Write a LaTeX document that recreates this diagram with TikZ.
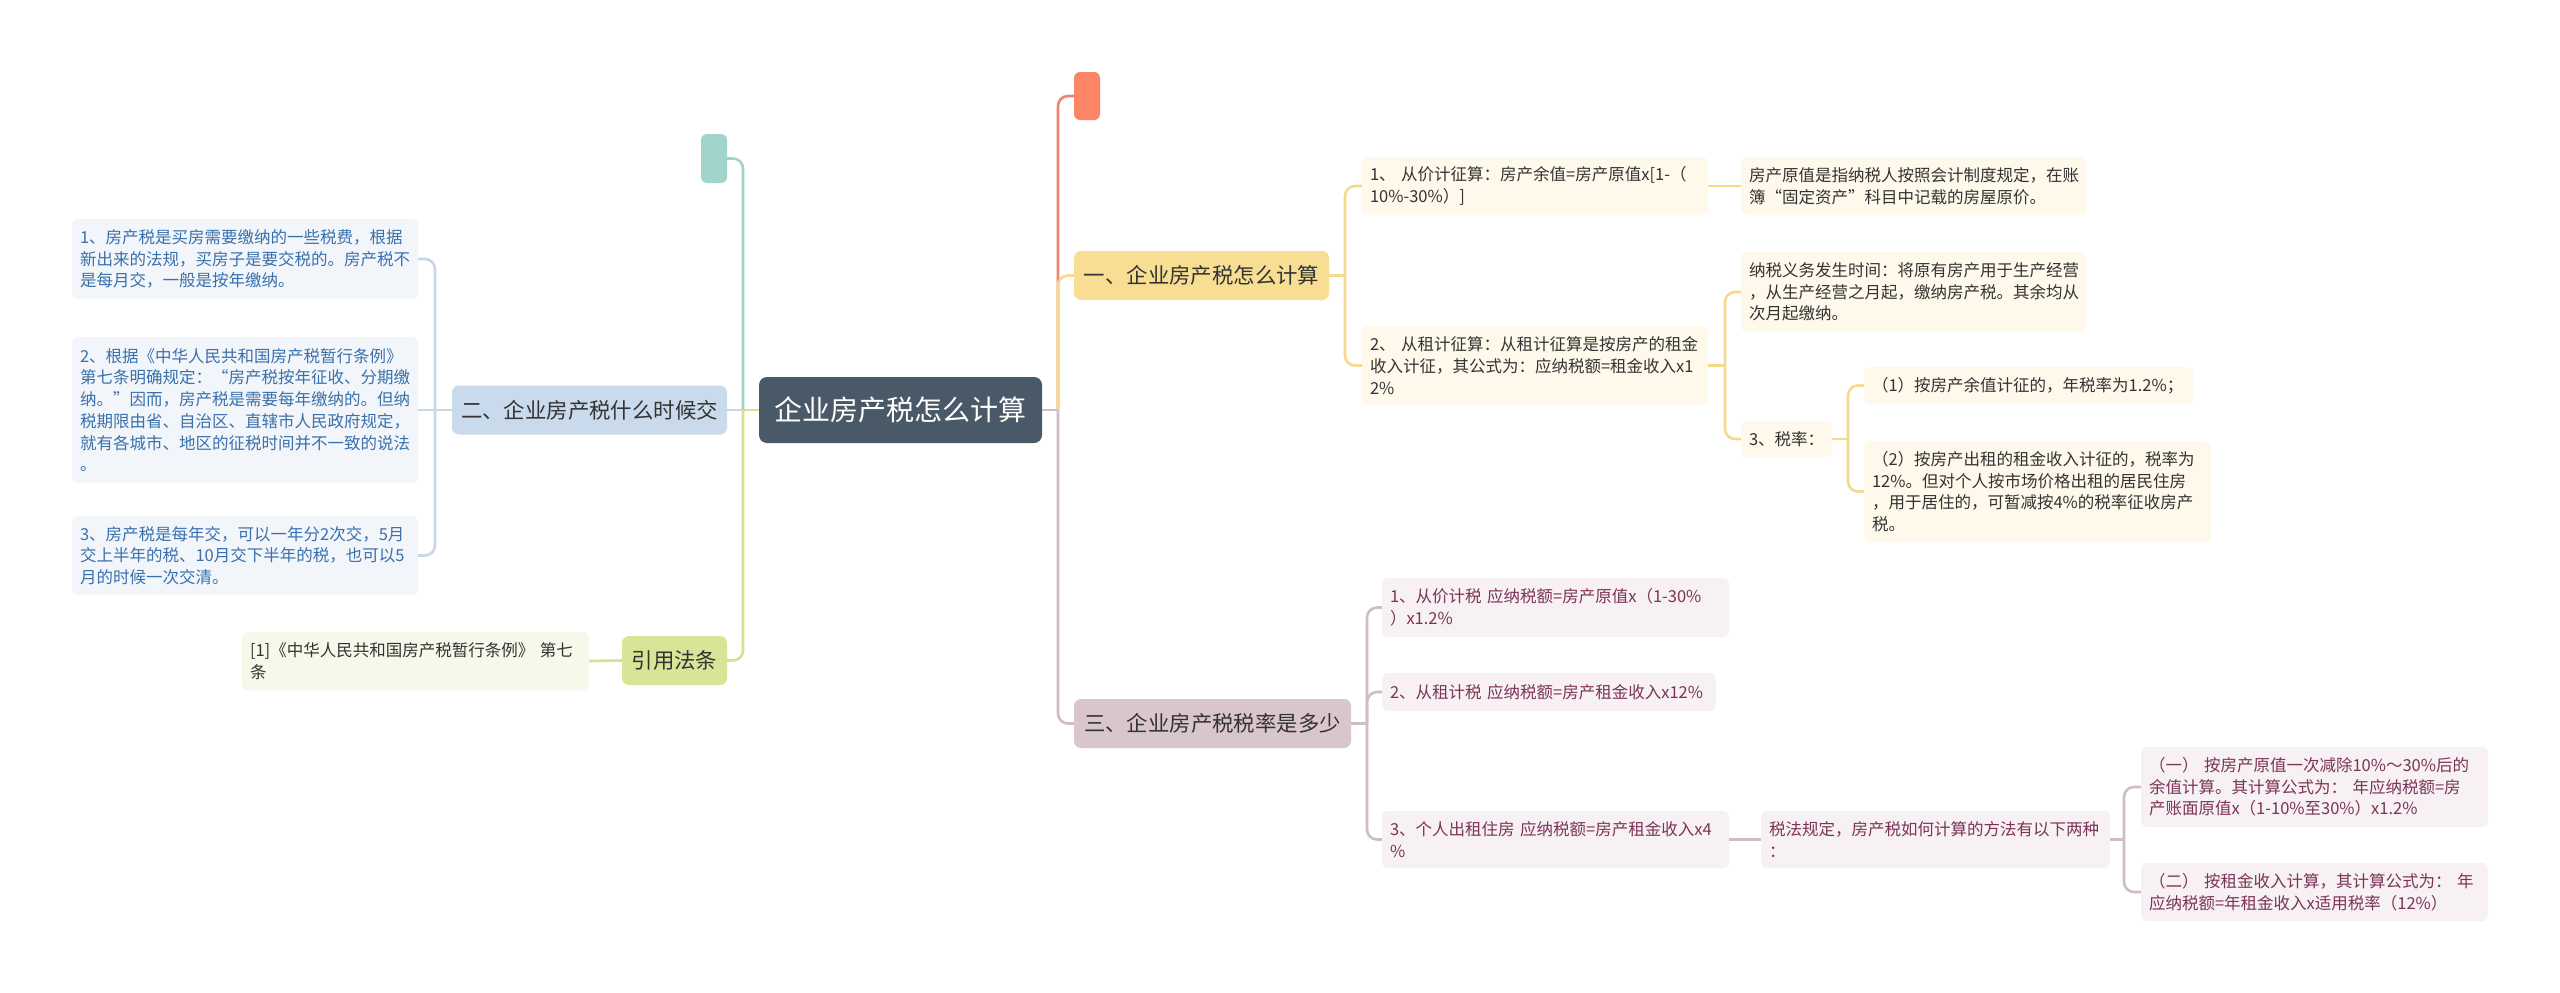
\documentclass[tikz,border=0pt]{standalone}
\usepackage{fontspec}
\setmainfont{Noto Sans CJK SC}
\definecolor{cdark}{HTML}{4A5968}
\definecolor{cteal}{HTML}{A2D4CE}
\definecolor{corange}{HTML}{FD8565}
\definecolor{cyellow}{HTML}{F8DE92}
\definecolor{cblue}{HTML}{C9DAEC}
\definecolor{cgreen}{HTML}{D7E597}
\definecolor{cmauve}{HTML}{D9C5CD}
\definecolor{lteal}{HTML}{A0D2CC}
\definecolor{lorange}{HTML}{F2836A}
\definecolor{lyellow}{HTML}{F5DA8C}
\definecolor{lblue}{HTML}{C8D6E7}
\definecolor{lgreen}{HTML}{D4E291}
\definecolor{lmauve}{HTML}{CFBDC5}
\definecolor{bgyellow}{HTML}{FEF9EA}
\definecolor{bgblue}{HTML}{F2F6FB}
\definecolor{bggreen}{HTML}{F6F9EA}
\definecolor{bgmauve}{HTML}{F7F1F4}
\definecolor{tblue}{HTML}{3A70AB}
\definecolor{tmauve}{HTML}{7B3457}
\definecolor{tdark}{HTML}{333333}
\tikzset{
  conn/.style={line width=2.6pt, rounded corners=10pt},
  leafbase/.style={rounded corners=6pt, inner xsep=8pt, inner ysep=0pt, align=left, anchor=center, font=\fontsize{16.5}{21.7}\selectfont},
  leafY/.style={leafbase, fill=bgyellow, text=tdark},
  leafB/.style={leafbase, fill=bgblue, text=tblue},
  leafG/.style={leafbase, fill=bggreen, text=tdark},
  leafM/.style={leafbase, fill=bgmauve, text=tmauve},
  lvl/.style={rounded corners=7pt, inner sep=0pt, anchor=center, text=tdark, font=\fontsize{21.4}{26}\selectfont},
  tiny/.style={rounded corners=6pt, inner sep=0pt, anchor=center},
}
\begin{document}
\begin{tikzpicture}[x=1pt,y=-1pt]
\useasboundingbox[fill=white] (0,0) rectangle (2560,993);

% central
\node[rounded corners=8pt, fill=cdark, text=white, inner sep=0pt, minimum width=283pt, minimum height=66pt, font=\fontsize{28}{32}\selectfont] (root) at (900.5,410) {企业房产税怎么计算};

% small nodes
\node[tiny, fill=cteal, minimum width=26pt, minimum height=49pt] (teal) at (714,158.5) {};
\node[tiny, fill=corange, minimum width=26pt, minimum height=48pt] (orng) at (1087,96) {};

% level 1
\node[lvl, fill=cyellow, minimum width=255pt, minimum height=49pt] (one) at (1201.5,275.5) {一、企业房产税怎么计算};
\node[lvl, fill=cblue, minimum width=275pt, minimum height=49pt] (two) at (589.5,410) {二、企业房产税什么时候交};
\node[lvl, fill=cmauve, minimum width=277pt, minimum height=49pt] (three) at (1212.5,723.5) {三、企业房产税税率是多少};
\node[lvl, fill=cgreen, minimum width=105pt, minimum height=49pt] (cite) at (674.5,660.5) {引用法条};

% left leaves
\node[leafB, text width=330pt, minimum height=80pt] (L1) at (245,259) {1、房产税是买房需要缴纳的一些税费，根据\\新出来的法规，买房子是要交税的。房产税不\\是每月交，一般是按年缴纳。};
\node[leafB, text width=330pt, minimum height=146pt] (L2) at (245,410) {2、根据《中华人民共和国房产税暂行条例》\\第七条明确规定：“房产税按年征收、分期缴\\纳。”因而，房产税是需要每年缴纳的。但纳\\税期限由省、自治区、直辖市人民政府规定，\\就有各城市、地区的征税时间并不一致的说法\\。};
\node[leafB, text width=330pt, minimum height=79pt] (L3) at (245,555.5) {3、房产税是每年交，可以一年分2次交，5月\\交上半年的税、10月交下半年的税，也可以5\\月的时候一次交清。};
\node[leafG, text width=331pt, minimum height=58pt] (citeL) at (415.5,661) {[1]《中华人民共和国房产税暂行条例》 第七\\条};

% branch one leaves
\node[leafY, text width=330pt, minimum height=58pt] (A) at (1535,186) {1、 从价计征算：房产余值=房产原值x[1-（\\10\%-30\%）]};
\node[leafY, text width=329pt, minimum height=58pt] (Ac) at (1913.5,186) {房产原值是指纳税人按照会计制度规定，在账\\簿“固定资产”科目中记载的房屋原价。};
\node[leafY, text width=330pt, minimum height=79pt] (B) at (1535,365.5) {2、 从租计征算：从租计征算是按房产的租金\\收入计征，其公式为：应纳税额=租金收入x1\\2\%};
\node[leafY, text width=329pt, minimum height=80pt] (B1) at (1913.5,292) {纳税义务发生时间：将原有房产用于生产经营\\，从生产经营之月起，缴纳房产税。其余均从\\次月起缴纳。};
\node[leafY, text width=75pt, minimum height=36pt] (B2) at (1786.5,439) {3、税率：};
\node[leafY, text width=313pt, minimum height=37pt] (B2a) at (2028.5,385.5) {（1）按房产余值计征的，年税率为1.2\%；};
\node[leafY, text width=331pt, minimum height=101pt] (B2b) at (2037.5,491.5) {（2）按房产出租的租金收入计征的，税率为\\12\%。但对个人按市场价格出租的居民住房\\，用于居住的，可暂减按4\%的税率征收房产\\税。};

% branch three leaves
\node[leafM, text width=331pt, minimum height=59pt] (C1) at (1555.5,607.5) {1、从价计税 应纳税额=房产原值x（1-30\%\\）x1.2\%};
\node[leafM, text width=318pt, minimum height=38pt] (C2) at (1549,692) {2、从租计税 应纳税额=房产租金收入x12\%};
\node[leafM, text width=331pt, minimum height=57pt] (C3) at (1555.5,839.5) {3、个人出租住房 应纳税额=房产租金收入x4\\\%};
\node[leafM, text width=333pt, minimum height=57pt] (C3c) at (1935.5,839.5) {税法规定，房产税如何计算的方法有以下两种\\：};
\node[leafM, text width=331pt, minimum height=80pt] (D1) at (2314.5,787) {（一） 按房产原值一次减除10\%～30\%后的\\余值计算。其计算公式为： 年应纳税额=房\\产账面原值x（1-10\%至30\%）x1.2\%};
\node[leafM, text width=331pt, minimum height=58pt] (D2) at (2314.5,892) {（二） 按租金收入计算，其计算公式为： 年\\应纳税额=年租金收入x适用税率（12\%）};

% trunk coordinates
\coordinate (tR) at (1058,410);
\coordinate (tL) at (743,410);
\coordinate (t2) at (435,410);
\coordinate (t3) at (1345,275.5);
\coordinate (t4) at (1725,365.5);
\coordinate (t5) at (1848,439);
\coordinate (t6) at (1367,723.5);
\coordinate (t7) at (2124,839.5);

% right main connectors
\draw[conn, lmauve] (root.east) -- (tR);
\draw[conn, lorange] (tR) |- (orng.west);
\draw[conn, lyellow] (tR) |- (one.west);
\draw[conn, lmauve] (tR) |- (three.west);

% left main connectors
\draw[conn, lblue] (two.east) -- (tL);
\draw[conn, lteal] (tL) |- (teal.east);
\draw[conn, lgreen] (tL) |- (cite.east);
\draw[conn, lgreen] (tL) -- (root.west);

% two children
\draw[conn, lblue] (two.west) -- (t2);
\draw[conn, lblue] (t2) |- (L1.east);
\draw[conn, lblue] (t2) -- (L2.east);
\draw[conn, lblue] (t2) |- (L3.east);
\draw[conn, lgreen] (cite.west) -- (citeL.east);

% one children
\draw[conn, lyellow] (one.east) -- (t3);
\draw[conn, lyellow] (t3) |- (A.west);
\draw[conn, lyellow] (t3) |- (B.west);
\draw[conn, lyellow] (A.east) -- (Ac.west);
\draw[conn, lyellow] (B.east) -- (t4);
\draw[conn, lyellow] (t4) |- (B1.west);
\draw[conn, lyellow] (t4) |- (B2.west);
\draw[conn, lyellow] (B2.east) -- (t5);
\draw[conn, lyellow] (t5) |- (B2a.west);
\draw[conn, lyellow] (t5) |- (B2b.west);

% three children
\draw[conn, lmauve] (three.east) -- (t6);
\draw[conn, lmauve] (t6) |- (C1.west);
\draw[conn, lmauve] (t6) |- (C2.west);
\draw[conn, lmauve] (t6) |- (C3.west);
\draw[conn, lmauve] (C3.east) -- (C3c.west);
\draw[conn, lmauve] (C3c.east) -- (t7);
\draw[conn, lmauve] (t7) |- (D1.west);
\draw[conn, lmauve] (t7) |- (D2.west);
\end{tikzpicture}
\end{document}
